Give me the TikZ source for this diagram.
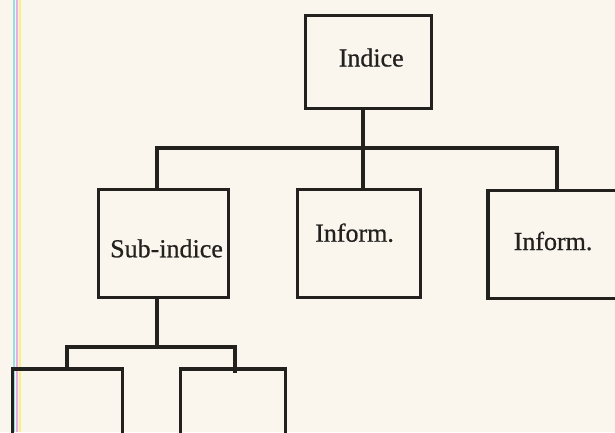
\documentclass[tikz,border=0pt]{standalone}
\usepackage{fontspec}
\setmainfont{Liberation Serif}
\newfontfamily\boxfont{Liberation Serif}[FakeBold=0.6]
\definecolor{paper}{RGB}{250,246,238}
\definecolor{ink}{RGB}{34,33,30}
\definecolor{regc}{RGB}{150,222,232}
\definecolor{regm}{RGB}{238,170,226}
\definecolor{regy}{RGB}{250,240,130}
\begin{document}
\begin{tikzpicture}[x=1pt,y=-1pt,
  box/.style={draw=ink,line width=3.3pt,rectangle,inner sep=0pt},
  wire/.style={draw=ink,line width=3.3pt,line cap=rect},
  lbl/.style={anchor=base west,inner sep=0pt,text=ink,font=\boxfont\fontsize{26}{28}\selectfont}]
  % sheet
  \fill[paper] (0,0) rectangle (615,432);
  \useasboundingbox (0,0) rectangle (615,432);
  \clip (0,0) rectangle (615,432);
  % register marks along the left margin
  \draw[regc,line width=1.6pt] (14,0) -- (14,432);
  \draw[regm,line width=1.6pt] (17,0) -- (17,432);
  \draw[regy,line width=1.6pt] (20,0) -- (20,432);

  % boxes
  \node[box,minimum width=126pt,minimum height=93pt] (indice) at (368.5,62) {};
  \node[box,minimum width=130pt,minimum height=108pt] (sub) at (163.3,243.5) {};
  \node[box,minimum width=123pt,minimum height=108pt] (inf1) at (358.7,243.8) {};
  \node[box,minimum width=160pt,minimum height=108pt] (inf2) at (568,244.5) {};
  \node[box,minimum width=110pt,minimum height=100pt] (leaf1) at (67.5,419) {};
  \node[box,minimum width=105pt,minimum height=100pt] (leaf2) at (233,419) {};

  % labels
  \node[lbl] (tIndice) at (338.5,66.5) {Indice};
  \node[lbl] (tSub) at (110,257.3) {Sub-indice};
  \node[lbl] (tInf1) at (315,241.7) {Inform.};
  \node[lbl] (tInf2) at (513.5,250) {Inform.};

  % junction points of the tree
  \coordinate (j1) at (363,148);
  \coordinate (j2) at (157,347);
  \coordinate (d1) at (157,148);
  \coordinate (d3) at (557,148);
  \coordinate (e1) at (67,347);
  \coordinate (e2) at (235,347);
  \coordinate (e2end) at (235,371.5);

  % first level
  \draw[wire] (indice.south -| j1) -- (j1);
  \draw[wire] (d1) -- (d3);
  \draw[wire] (d1) -- (sub.north -| d1);
  \draw[wire] (j1) -- (inf1.north -| j1);
  \draw[wire] (d3) -- (inf2.north -| d3);

  % second level
  \draw[wire] (sub.south -| j2) -- (j2);
  \draw[wire] (e1) -- (e2);
  \draw[wire] (e1) -- (leaf1.north -| e1);
  \draw[wire] (e2) -- (e2end);
\end{tikzpicture}
\end{document}
